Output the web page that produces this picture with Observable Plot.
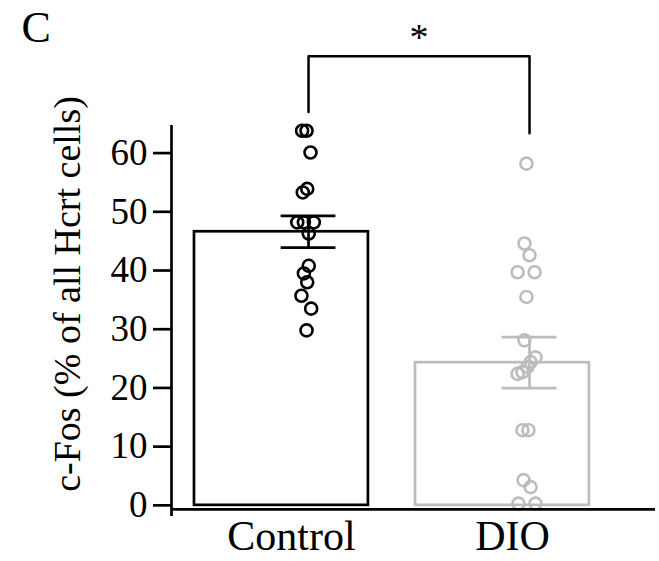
<!DOCTYPE html>
<html>
<head>
<meta charset="utf-8">
<script src="https://cdn.jsdelivr.net/npm/d3@7"></script>
<script src="https://cdn.jsdelivr.net/npm/@observablehq/plot@0.6"></script>
<style>
  html, body { margin: 0; padding: 0; background: white; }
  svg { display: block; }
</style>
</head>
<body>
<div id="chart"></div>
<script>
// ---- data ----
const categories = ["Control", "DIO"];
const means = [46.6, 24.3];
const sems = [2.7, 4.35];
const controlValues = [63.8, 63.8, 60.1, 53.3, 53.9, 48.2, 48.2, 48.2, 46.3, 40.8, 39.5, 38.0, 35.7, 33.5, 29.8];
const controlJitter = [-0.029, -0.009, 0.009, -0.026, -0.006, -0.051, -0.021, 0.024, 0.001, 0.001, -0.021, -0.006, -0.032, 0.012, -0.009];
const dioValues = [58.2, 44.6, 42.6, 39.7, 39.7, 35.5, 28.1, 25.2, 24.4, 23.6, 22.7, 22.4, 12.8, 12.8, 4.3, 3.1, 0.3, 0.3];
const dioJitter = [-0.014, -0.023, 0, -0.054, 0.023, -0.014, -0.023, 0.027, 0.005, -0.009, -0.032, -0.054, -0.032, -0.005, -0.027, 0.005, -0.05, 0.027];
const yTicks = [0, 10, 20, 30, 40, 50, 60];
const groupColors = ["#000000", "#bcbcbc"];
const yLabel = "c-Fos (% of all Hcrt cells)";
const panelLetter = "C";
const sigLabel = "*";
const bracketTop = 76.5;
const bracketEnds = [67, 63.4];

// ---- layout ----
const font = "Liberation Serif, Times New Roman, serif";
const xDomain = [0.38, 2.57];
const yDomain = [-1.9, 64.7];
const xAxisAt = -0.7;
const barLeft = -0.516, barRight = 0.271, capHalf = 0.124;

const groups = categories.map((c, k) => ({i: k + 1, name: c, mean: means[k], sem: sems[k], color: groupColors[k]}));
const points = [
  ...controlValues.map((v, j) => ({i: 1, value: v, jitter: controlJitter[j], color: groupColors[0]})),
  ...dioValues.map((v, j) => ({i: 2, value: v, jitter: dioJitter[j], color: groupColors[1]}))
];
const bracket = [
  {x: 1, y: bracketEnds[0]}, {x: 1, y: bracketTop}, {x: 2, y: bracketTop}, {x: 2, y: bracketEnds[1]}
];

const marks = [];
groups.forEach(g => {
  marks.push(Plot.rectY([g], {x1: d => d.i + barLeft, x2: d => d.i + barRight, y1: 0, y2: d => d.mean,
    fill: "none", stroke: g.color, strokeWidth: 2.7}));
  marks.push(Plot.ruleX([g], {x: d => d.i, y1: d => d.mean - d.sem, y2: d => d.mean + d.sem, stroke: g.color, strokeWidth: 2.7}));
  marks.push(Plot.ruleY([g.mean - g.sem, g.mean + g.sem], {y: d => d, x1: g.i - capHalf, x2: g.i + capHalf, stroke: g.color, strokeWidth: 2.7}));
});
groups.forEach(g => {
  marks.push(Plot.dot(points.filter(p => p.i === g.i), {x: d => d.i + d.jitter, y: "value", r: 6, stroke: g.color, strokeWidth: 2.6, fill: "none"}));
});
marks.push(
  Plot.ruleX([xDomain[0]], {stroke: "black", strokeWidth: 2.7}),
  Plot.ruleY([xAxisAt], {stroke: "black", strokeWidth: 2.7}),
  Plot.axisY({ticks: yTicks, tickSize: 18, tickPadding: 6, strokeWidth: 2.7, fontSize: 37, fontFamily: font, fill: "black", label: null}),
  Plot.axisX({ticks: [1, 2], tickSize: 0, tickPadding: 4, dx: -17, tickFormat: i => categories[i - 1], fontSize: 42, fontFamily: font, fill: "black", label: null}),
  Plot.line(bracket, {x: "x", y: "y", stroke: "black", strokeWidth: 2.5}),
  Plot.text([sigLabel], {x: 1.5, y: 79.6, text: d => d, fontSize: 38, fontFamily: font, fill: "black"}),
  Plot.text([yLabel], {frameAnchor: "left", dx: -104, dy: -27, rotate: -90, textAnchor: "middle", lineAnchor: "middle", text: d => d, fontSize: 38, fontFamily: font, fill: "black"}),
  Plot.text([panelLetter], {frameAnchor: "top-left", dx: -150, dy: -115, textAnchor: "start", lineAnchor: "top", text: d => d, fontSize: 44, fontFamily: font, fill: "black"})
);

const chart = Plot.plot({
  width: 659,
  height: 561,
  marginLeft: 171,
  marginRight: 4,
  marginTop: 125,
  marginBottom: 45,
  x: {type: "linear", domain: xDomain, axis: null},
  y: {domain: yDomain, axis: null},
  style: {background: "white", fontFamily: font},
  marks
});
document.getElementById("chart").appendChild(chart);
</script>
</body>
</html>
